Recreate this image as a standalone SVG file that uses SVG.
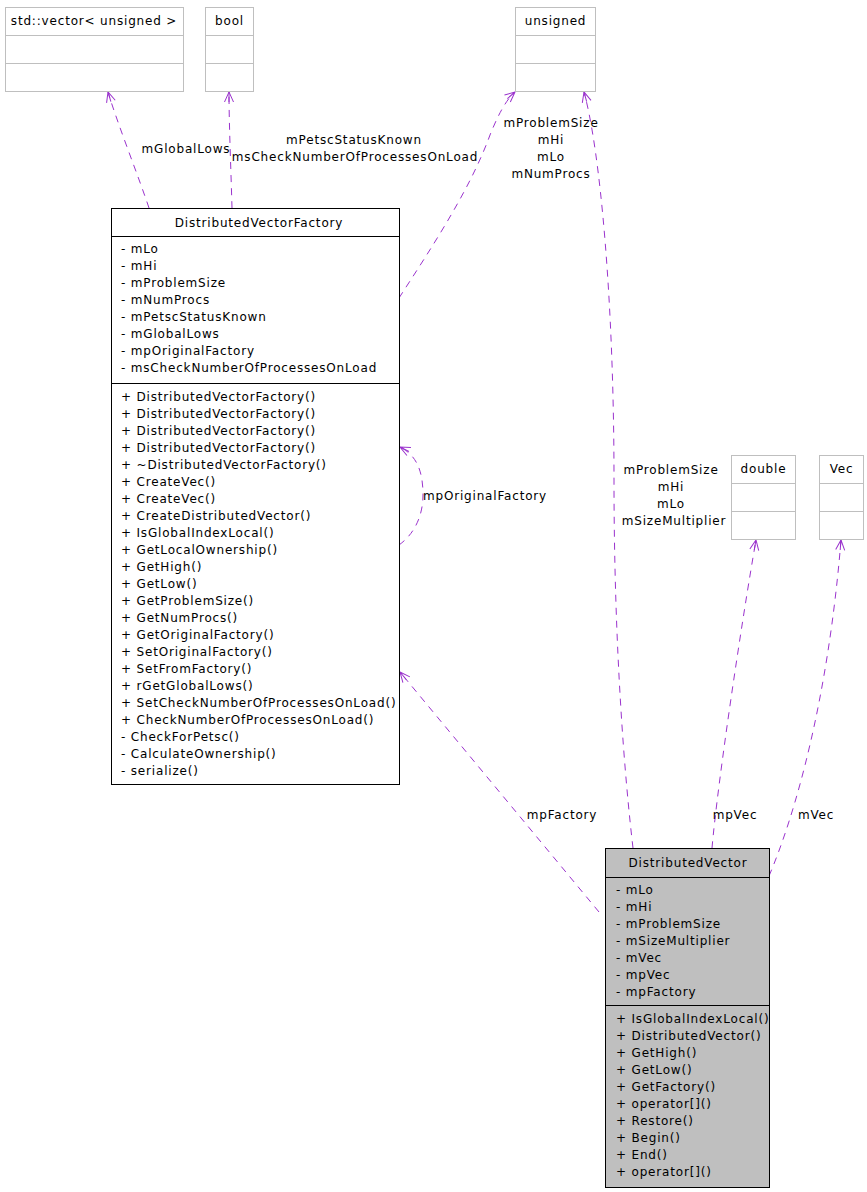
<svg xmlns="http://www.w3.org/2000/svg" width="867" height="1192" viewBox="0 0 867 1192">
<defs>
<style>
text{font-family:"DejaVu Sans","Liberation Sans",sans-serif;font-size:12px;fill:#000;letter-spacing:0.82px}
.c{text-anchor:middle}
.gbox{fill:#fff;stroke:#bfbfbf;stroke-width:1}
.box{fill:#fff;stroke:#000;stroke-width:1}
.dbox{fill:#bfbfbf;stroke:#000;stroke-width:1}
.gl{stroke:#bfbfbf;stroke-width:1}
.bl{stroke:#000;stroke-width:1}
.e{fill:none;stroke:#9a32cd;stroke-width:1;stroke-dasharray:7,6;marker-end:url(#ah)}
</style>
<marker id="ah" markerUnits="userSpaceOnUse" markerWidth="14" markerHeight="12" refX="11" refY="6" orient="auto" viewBox="0 0 14 12">
<path d="M1,1.5 L11,6 L1,10.5 M1,6 L11,6" fill="none" stroke="#9a32cd" stroke-width="1"/>
</marker>
</defs>
<rect width="867" height="1192" fill="#fff"/>

<g id="connectors">
<path class="e" d="M149,208 C138,175 118,125 108,92"/>
<path class="e" d="M232,208 C231,170 229,125 229,92"/>
<path class="e" d="M399,298 C430,250 470,190 490,135 C500,110 508,98 515,92"/>
<path class="e" d="M633,848 C625,780 614,650 614,480 C614,300 600,150 584,92"/>
<path class="e" d="M399,545 C417,532 423,512 423,495 C423,470 416,455 400,447"/>
<path class="e" d="M599,912 L400,672"/>
<path class="e" d="M712,848 C718,780 742,620 756,540"/>
<path class="e" d="M769,876 C795,815 828,700 841,540"/>
<text class="c" x="186" y="153">mGlobalLows</text>
<text class="c" x="354" y="144">mPetscStatusKnown</text>
<text class="c" x="355" y="161">msCheckNumberOfProcessesOnLoad</text>
<text class="c" x="551" y="127">mProblemSize</text>
<text class="c" x="551" y="144">mHi</text>
<text class="c" x="551" y="161">mLo</text>
<text class="c" x="551" y="178">mNumProcs</text>
<text class="c" x="671" y="474">mProblemSize</text>
<text class="c" x="671" y="491">mHi</text>
<text class="c" x="671" y="508">mLo</text>
<text class="c" x="674" y="525">mSizeMultiplier</text>
<text class="c" x="485" y="500">mpOriginalFactory</text>
<text class="c" x="562" y="819">mpFactory</text>
<text class="c" x="735" y="819">mpVec</text>
<text class="c" x="816" y="819">mVec</text>
</g>

<g id="std_vector_unsigned">
<rect class="gbox" x="5.5" y="7.5" width="178" height="84"/>
<line class="gl" x1="5.5" y1="35.5" x2="183.5" y2="35.5"/>
<line class="gl" x1="5.5" y1="63.5" x2="183.5" y2="63.5"/>
<text class="c" x="94" y="25">std::vector&lt; unsigned &gt;</text>
</g>

<g id="bool">
<rect class="gbox" x="205.5" y="7.5" width="48" height="84"/>
<line class="gl" x1="205.5" y1="35.5" x2="253.5" y2="35.5"/>
<line class="gl" x1="205.5" y1="63.5" x2="253.5" y2="63.5"/>
<text class="c" x="229.5" y="25">bool</text>
</g>

<g id="unsigned">
<rect class="gbox" x="515.5" y="7.5" width="80" height="84"/>
<line class="gl" x1="515.5" y1="35.5" x2="595.5" y2="35.5"/>
<line class="gl" x1="515.5" y1="63.5" x2="595.5" y2="63.5"/>
<text class="c" x="555.5" y="25">unsigned</text>
</g>

<g id="double">
<rect class="gbox" x="731.5" y="455.5" width="64" height="84"/>
<line class="gl" x1="731.5" y1="483.5" x2="795.5" y2="483.5"/>
<line class="gl" x1="731.5" y1="511.5" x2="795.5" y2="511.5"/>
<text class="c" x="763.5" y="473">double</text>
</g>

<g id="Vec">
<rect class="gbox" x="819.5" y="455.5" width="44" height="84"/>
<line class="gl" x1="819.5" y1="483.5" x2="863.5" y2="483.5"/>
<line class="gl" x1="819.5" y1="511.5" x2="863.5" y2="511.5"/>
<text class="c" x="841.5" y="473">Vec</text>
</g>

<g id="DistributedVectorFactory">
<rect class="box" x="111.5" y="208.5" width="288" height="576"/>
<line class="bl" x1="111.5" y1="236.5" x2="399.5" y2="236.5"/>
<line class="bl" x1="111.5" y1="383.5" x2="399.5" y2="383.5"/>
<text class="c" x="259" y="227">DistributedVectorFactory</text>
<text x="121" y="253">- mLo</text>
<text x="121" y="270">- mHi</text>
<text x="121" y="287">- mProblemSize</text>
<text x="121" y="304">- mNumProcs</text>
<text x="121" y="321">- mPetscStatusKnown</text>
<text x="121" y="338">- mGlobalLows</text>
<text x="121" y="355">- mpOriginalFactory</text>
<text x="121" y="372">- msCheckNumberOfProcessesOnLoad</text>
<text x="121" y="401">+ DistributedVectorFactory()</text>
<text x="121" y="418">+ DistributedVectorFactory()</text>
<text x="121" y="435">+ DistributedVectorFactory()</text>
<text x="121" y="452">+ DistributedVectorFactory()</text>
<text x="121" y="469">+ ~DistributedVectorFactory()</text>
<text x="121" y="486">+ CreateVec()</text>
<text x="121" y="503">+ CreateVec()</text>
<text x="121" y="520">+ CreateDistributedVector()</text>
<text x="121" y="537">+ IsGlobalIndexLocal()</text>
<text x="121" y="554">+ GetLocalOwnership()</text>
<text x="121" y="571">+ GetHigh()</text>
<text x="121" y="588">+ GetLow()</text>
<text x="121" y="605">+ GetProblemSize()</text>
<text x="121" y="622">+ GetNumProcs()</text>
<text x="121" y="639">+ GetOriginalFactory()</text>
<text x="121" y="656">+ SetOriginalFactory()</text>
<text x="121" y="673">+ SetFromFactory()</text>
<text x="121" y="690">+ rGetGlobalLows()</text>
<text x="121" y="707">+ SetCheckNumberOfProcessesOnLoad()</text>
<text x="121" y="724">+ CheckNumberOfProcessesOnLoad()</text>
<text x="121" y="741">- CheckForPetsc()</text>
<text x="121" y="758">- CalculateOwnership()</text>
<text x="121" y="775">- serialize()</text>
</g>

<g id="DistributedVector">
<rect class="dbox" x="605.5" y="848.5" width="164" height="339"/>
<line class="bl" x1="605.5" y1="877.5" x2="769.5" y2="877.5"/>
<line class="bl" x1="605.5" y1="1005.5" x2="769.5" y2="1005.5"/>
<text class="c" x="688" y="867">DistributedVector</text>
<text x="616" y="894">- mLo</text>
<text x="616" y="911">- mHi</text>
<text x="616" y="928">- mProblemSize</text>
<text x="616" y="945">- mSizeMultiplier</text>
<text x="616" y="962">- mVec</text>
<text x="616" y="979">- mpVec</text>
<text x="616" y="996">- mpFactory</text>
<text x="616" y="1023">+ IsGlobalIndexLocal()</text>
<text x="616" y="1040">+ DistributedVector()</text>
<text x="616" y="1057">+ GetHigh()</text>
<text x="616" y="1074">+ GetLow()</text>
<text x="616" y="1091">+ GetFactory()</text>
<text x="616" y="1108">+ operator[]()</text>
<text x="616" y="1125">+ Restore()</text>
<text x="616" y="1142">+ Begin()</text>
<text x="616" y="1159">+ End()</text>
<text x="616" y="1176">+ operator[]()</text>
</g>
</svg>
